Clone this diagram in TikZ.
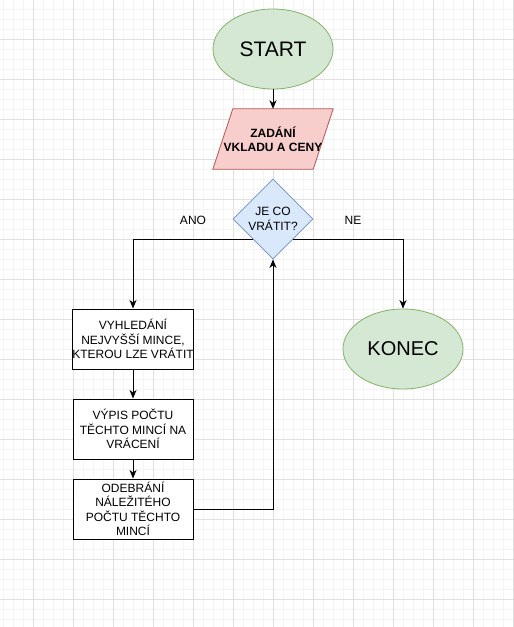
\documentclass[tikz,border=0pt]{standalone}
\usepackage{fontspec}
\setmainfont{Liberation Sans}
\usetikzlibrary{shapes.geometric,arrows.meta,calc}
\definecolor{gfill}{HTML}{D5E8D4}
\definecolor{gline}{HTML}{82B366}
\definecolor{rfill}{HTML}{F8CECC}
\definecolor{rline}{HTML}{B85450}
\definecolor{bfill}{HTML}{DAE8FC}
\definecolor{bline}{HTML}{6C8EBF}
\definecolor{gridminor}{HTML}{F4F4F4}
\definecolor{gridmajor}{HTML}{E0E0E0}
\tikzset{
  txt/.style={font=\fontsize{12}{14.5}\selectfont, align=center, text=black},
  term/.style={ellipse, draw=gline, fill=gfill, line width=0.8pt, minimum width=120, minimum height=80, inner sep=0pt, text=black},
  proc/.style={rectangle, draw=black, fill=white, line width=1pt, minimum width=120, minimum height=60, inner sep=0pt, txt},
  decis/.style={diamond, draw=bline, fill=bfill, line width=0.8pt, minimum width=80, minimum height=80, inner sep=0pt, aspect=1, txt},
  conn/.style={draw=black, line width=1pt},
  arr/.style={conn, -{Stealth[length=8.5pt,width=7pt,inset=2.5pt]}},
  minorline/.style={draw=gridminor, line width=1pt},
  majorline/.style={draw=gridmajor, line width=1pt}
}
\begin{document}
\begin{tikzpicture}[x=1pt,y=-1pt]
\useasboundingbox (0,0) rectangle (514,627);
\fill[white] (0,0) rectangle (514,627);
% grid
\foreach \x in {3,13,...,513} \draw[minorline] (\x,0) -- (\x,627);
\foreach \y in {9,19,...,619} \draw[minorline] (0,\y) -- (514,\y);
\foreach \x in {33,73,...,513} \draw[majorline] (\x,0) -- (\x,627);
\foreach \y in {39,79,...,599} \draw[majorline] (0,\y) -- (514,\y);

% nodes
\node[term, font=\fontsize{21}{24}\selectfont] (start) at (273,49) {START};
\node[minimum width=120, minimum height=60, inner sep=0pt] (zad) at (273,139) {};
\draw[draw=rline, fill=rfill, line width=0.8pt]
  ($(zad.north west)+(20,0)$) -- (zad.north east) -- ($(zad.south east)+(-20,0)$) -- (zad.south west) -- cycle;
\node[txt, font=\bfseries\fontsize{12}{14.5}\selectfont] (zadt) at (zad.center) {ZADÁNÍ\\VKLADU A CENY};
\node[decis] (dia) at (273,219) {JE CO\\VRÁTIT?};
\node[txt] (ano) at (193,220) {ANO};
\node[txt] (ne) at (353,220) {NE};
\node[proc] (b1) at (133,339) {VYHLEDÁNÍ\\NEJVYŠŠÍ MINCE,\\KTEROU LZE VRÁTIT};
\node[proc] (b2) at (133,429) {VÝPIS POČTU\\TĚCHTO MINCÍ NA\\VRÁCENÍ};
\node[proc] (b3) at (133,509) {ODEBRÁNÍ\\NÁLEŽITÉHO\\POČTU TĚCHTO\\MINCÍ};
\node[term, font=\fontsize{20}{24}\selectfont] (konec) at (403,349) {KONEC};

% connectors
\coordinate (dl) at ($(dia.west)!0.5!(dia.south)$);
\coordinate (dr) at ($(dia.east)!0.5!(dia.south)$);
\draw[arr] (start.south) -- (zad.north);
\draw[arr] (dl) -| (b1.north);
\draw[arr] (dr) -| (konec.north);
\draw[arr] (b1.south) -- (b2.north);
\draw[arr] (b2.south) -- (b3.north);
\draw[arr] (b3.east) -| (dia.south);
\end{tikzpicture}
\end{document}
